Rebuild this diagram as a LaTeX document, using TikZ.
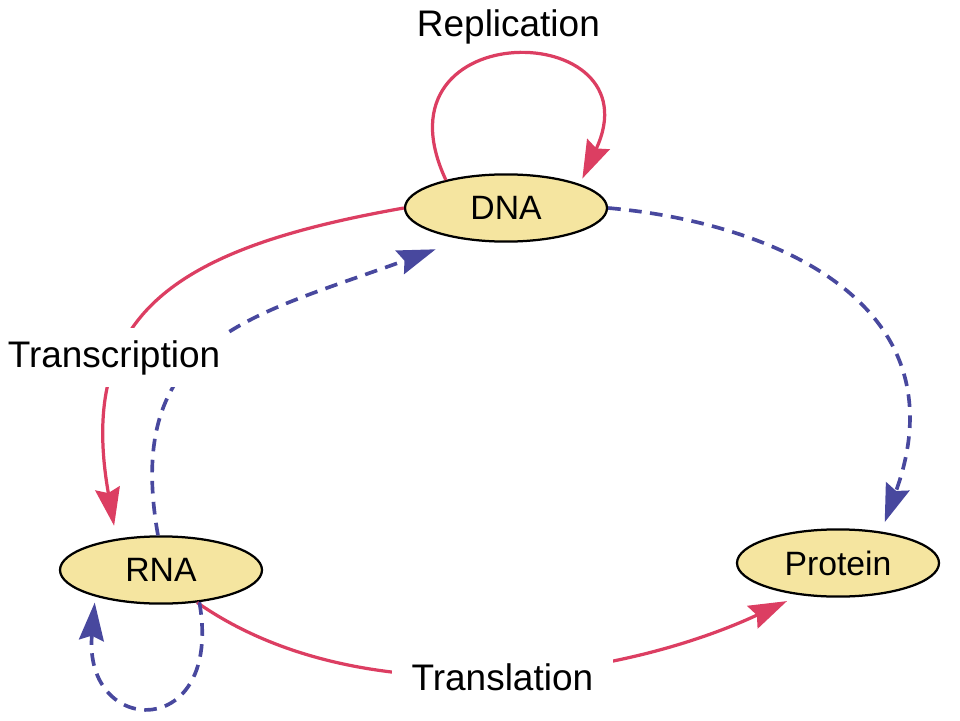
\documentclass[tikz,border=0pt]{standalone}
\usepackage{fontspec}
\setmainfont{Liberation Sans}
\usetikzlibrary{shapes.geometric}
\usetikzlibrary{arrows.meta}
\definecolor{molfill}{RGB}{245,229,160}
\definecolor{arrred}{RGB}{220,62,98}
\definecolor{arrblue}{RGB}{72,72,158}

\begin{document}
\begin{tikzpicture}[
  mol/.style={ellipse,draw=black,line width=1.6pt,fill=molfill,minimum width=5.05cm,minimum height=1.68cm,inner sep=0pt,font=\fontsize{24}{28}\selectfont},
  redarr/.style={draw=arrred,line width=2.3pt,-{Stealth[length=0.95cm,width=0.62cm,inset=0.12cm]}},
  bluearr/.style={draw=arrblue,line width=2.6pt,dash pattern=on 9pt off 6pt,-{Stealth[length=0.95cm,width=0.62cm,inset=0.12cm]}},
  lbl/.style={anchor=base,fill=white,font=\fontsize{26.3}{31}\selectfont}
]
\useasboundingbox (0,0) rectangle (24,18);

\node[mol] (dna) at (12.65,12.8) {DNA};
\node[mol] (rna) at (4.025,3.75) {RNA};
\node[mol] (protein) at (20.95,3.925) {Protein};

\draw[redarr,shorten >=0.15cm] (dna.155) .. controls +(115:4.6) and +(65:4.6) .. (dna.18);
\draw[redarr,shorten >=0.33cm] (dna.west) .. controls +(190:5.75) and +(100:5.75) .. (rna.145);
\draw[bluearr,shorten >=0.72cm] (rna.95) .. controls +(100:5) and +(200:5.7) .. (dna.216);
\draw[bluearr,shorten >=0.25cm] (dna.east) .. controls +(-5:4.25) and +(70:6) .. (protein.36);
\draw[redarr,shorten >=0.35cm] (rna.-42) .. controls +(-35:5) and +(205:5) .. (protein.-140);
\draw[bluearr,shorten >=0.15cm] (rna.-40) .. controls +(-80:3.55) and +(-95:3.55) .. (rna.202);

\node[lbl,fill=none] (replic) at (12.71,17.075) {Replication};
\node[lbl,inner xsep=0.2cm,inner ysep=0.3cm] (transcr) at (2.85,8.825) {Transcription};
\node[lbl,inner xsep=0.5cm,inner ysep=0.3cm] (transl) at (12.56,0.75) {Translation};

\end{tikzpicture}
\end{document}
